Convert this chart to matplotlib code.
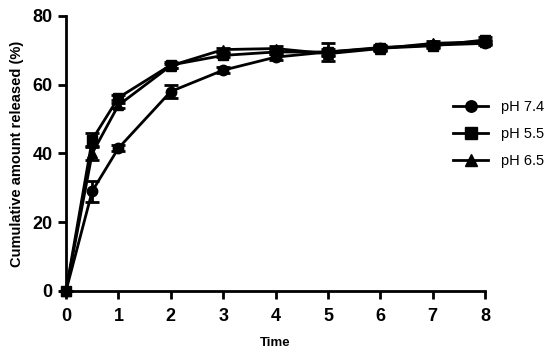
import numpy as np
import matplotlib.pyplot as plt

plt.rcParams['font.family'] = ['Liberation Sans', 'DejaVu Sans']

time = [0, 0.5, 1, 2, 3, 4, 5, 6, 7, 8]
ph74 = [0, 29, 41.5, 58, 64.2, 68, 69.5, 70.8, 71.5, 72]
ph74_err = [0, 3, 0.8, 2, 0.8, 0.8, 0.8, 0.6, 0.6, 0.6]
ph55 = [0, 44, 56.2, 65.7, 68.5, 69.5, 69.5, 70.6, 71.3, 73]
ph55_err = [0, 1.8, 0.8, 0.8, 0.6, 0.6, 2.5, 0.6, 0.6, 0.8]
ph65 = [0, 40, 54, 65.5, 70.2, 70.5, 69, 70.5, 72, 72.5]
ph65_err = [0, 2, 0.8, 0.6, 0.6, 0.6, 0.8, 0.6, 0.6, 0.6]

fig = plt.figure(figsize=(5.5, 3.53), dpi=100)
ax = fig.add_axes([0.12, 0.176, 0.762, 0.779])

series = [
    (ph74, ph74_err, 'o', 'pH 7.4'),
    (ph55, ph55_err, 's', 'pH 5.5'),
    (ph65, ph65_err, '^', 'pH 6.5'),
]
for vals, err, mk, lab in series:
    ax.errorbar(time, vals, yerr=err, color='black', marker=mk, markersize=7.5,
                linewidth=2, elinewidth=2, capsize=5, capthick=2,
                label=lab, clip_on=False, zorder=3)

ax.set_xlim(0, 8)
ax.set_ylim(0, 80)
ax.set_xticks(range(0, 9))
ax.set_yticks(range(0, 81, 20))
for s in ['top', 'right']:
    ax.spines[s].set_visible(False)
for s in ['left', 'bottom']:
    ax.spines[s].set_linewidth(2)
ax.tick_params(width=2, length=6, labelsize=13, direction='out')
ax.tick_params(axis='x', pad=6)
for t in ax.get_xticklabels() + ax.get_yticklabels():
    t.set_fontweight('bold')

ax.set_xlabel('Time', fontsize=9.5, fontweight='bold', labelpad=9)
ax.set_ylabel('Cumulative amount released (%)', fontsize=10.5,
              fontweight='bold', labelpad=6)

handles, labels = ax.get_legend_handles_labels()
handles = [h[0] for h in handles]
fig.legend(handles, labels, loc='upper left', bbox_to_anchor=(0.80, 0.755),
           frameon=False, fontsize=10.5, handlelength=2.4, labelspacing=0.9,
           handletextpad=0.9, markerscale=1.1)

fig.savefig('out.png', dpi=100)
